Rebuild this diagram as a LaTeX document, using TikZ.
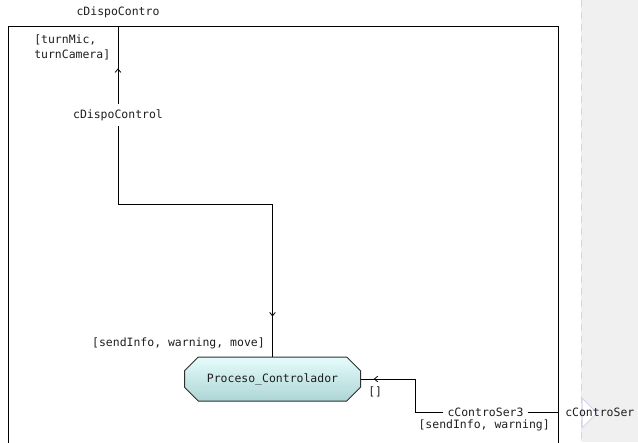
\documentclass[tikz,border=0pt]{standalone}
\usepackage{fontspec}
\setmonofont{DejaVu Sans Mono}
\usetikzlibrary{shapes.misc,arrows.meta,decorations.markings}
\definecolor{ink}{HTML}{1E1E1E}
\definecolor{paneGrey}{HTML}{F0F0F0}
\definecolor{portLine}{HTML}{D2D2F2}
\definecolor{procTop}{HTML}{E6FCFC}
\definecolor{procBot}{HTML}{ADD5D5}
\definecolor{procEdge}{HTML}{303030}
\pgfdeclarelayer{back}
\pgfsetlayers{back,main}
\tikzset{
  lbl/.style={inner sep=0pt, text=ink},
  wire/.style={draw=black, line width=0.75pt},
  chev/.style={-{Straight Barb[length=2.6pt,width=4.2pt,line width=0.6pt]}},
  markat/.style={postaction={decorate},
    decoration={markings, mark=at position #1 with {\arrow{Straight Barb[length=2.6pt,width=4.2pt,line width=0.6pt]}}}},
  procbox/.style={chamfered rectangle, chamfered rectangle xsep=6pt,
    chamfered rectangle ysep=6pt,
    minimum width=132pt, minimum height=33pt, inner sep=0pt,
    top color=procTop, bottom color=procBot, draw=procEdge, line width=0.75pt,
    text=ink},
}
\begin{document}
\begin{tikzpicture}[x=0.75pt,y=-0.75pt,
  font=\ttfamily\fontsize{8.6}{10.6}\selectfont]
\useasboundingbox (0,0) rectangle (638,442);

% side pane with its dashed border and the port marker
\fill[paneGrey] (581,0) rectangle (638,442);
\draw[portLine, line width=0.75pt, dash pattern=on 5.5pt off 3.5pt] (581,0) -- (581,442);
\filldraw[fill=white, draw=portLine, line width=0.75pt] (582,398) -- (597,413) -- (582,428) -- cycle;

% enclosing frame (runs past the lower edge)
\begin{scope}
  \clip (0,0) rectangle (638,442);
  \draw[wire] (8,450) -- (8,27) -- (558,27) -- (558,450);
\end{scope}

% process block
\node[procbox] (pc) at (272.5,379) {Proceso\_Controlador};

% points on the frame
\coordinate (ptop) at (118,27);
\coordinate (pright) at (558,412);

% labels that interrupt wires
\node[lbl, fill=white, inner xsep=2pt, inner ysep=4pt] (mid) at (118,115) {cDispoControl};
\node[lbl, fill=white, inner xsep=3pt, inner ysep=3pt] (cs3) at (485.5,412) {cControSer3};

% wires
\draw[wire, markat=-31pt] (mid.north) -- (ptop);
\draw[wire, markat=-30pt] (mid.south) -- (118,204) -| (pc.north);
\draw[wire, markat=-9.5pt] (cs3.west) -| (415,379) -- (pc.east);
\draw[wire] (cs3.east) -- (pright);

% other texts
\node[lbl] (ntop) at (118,12) {cDispoContro};
\node[lbl, anchor=north west, align=left] (tmc) at (34,35) {[turnMic,\\turnCamera]};
\node[lbl, anchor=east] (swm) at (265,343) {[sendInfo, warning, move]};
\node[lbl, anchor=west] (empty) at (368,392) {[]};
\node[lbl, anchor=east] (sw) at (550,425) {[sendInfo, warning]};
\node[lbl, anchor=west] (csr) at (565,412) {cControSer};
\end{tikzpicture}
\end{document}
